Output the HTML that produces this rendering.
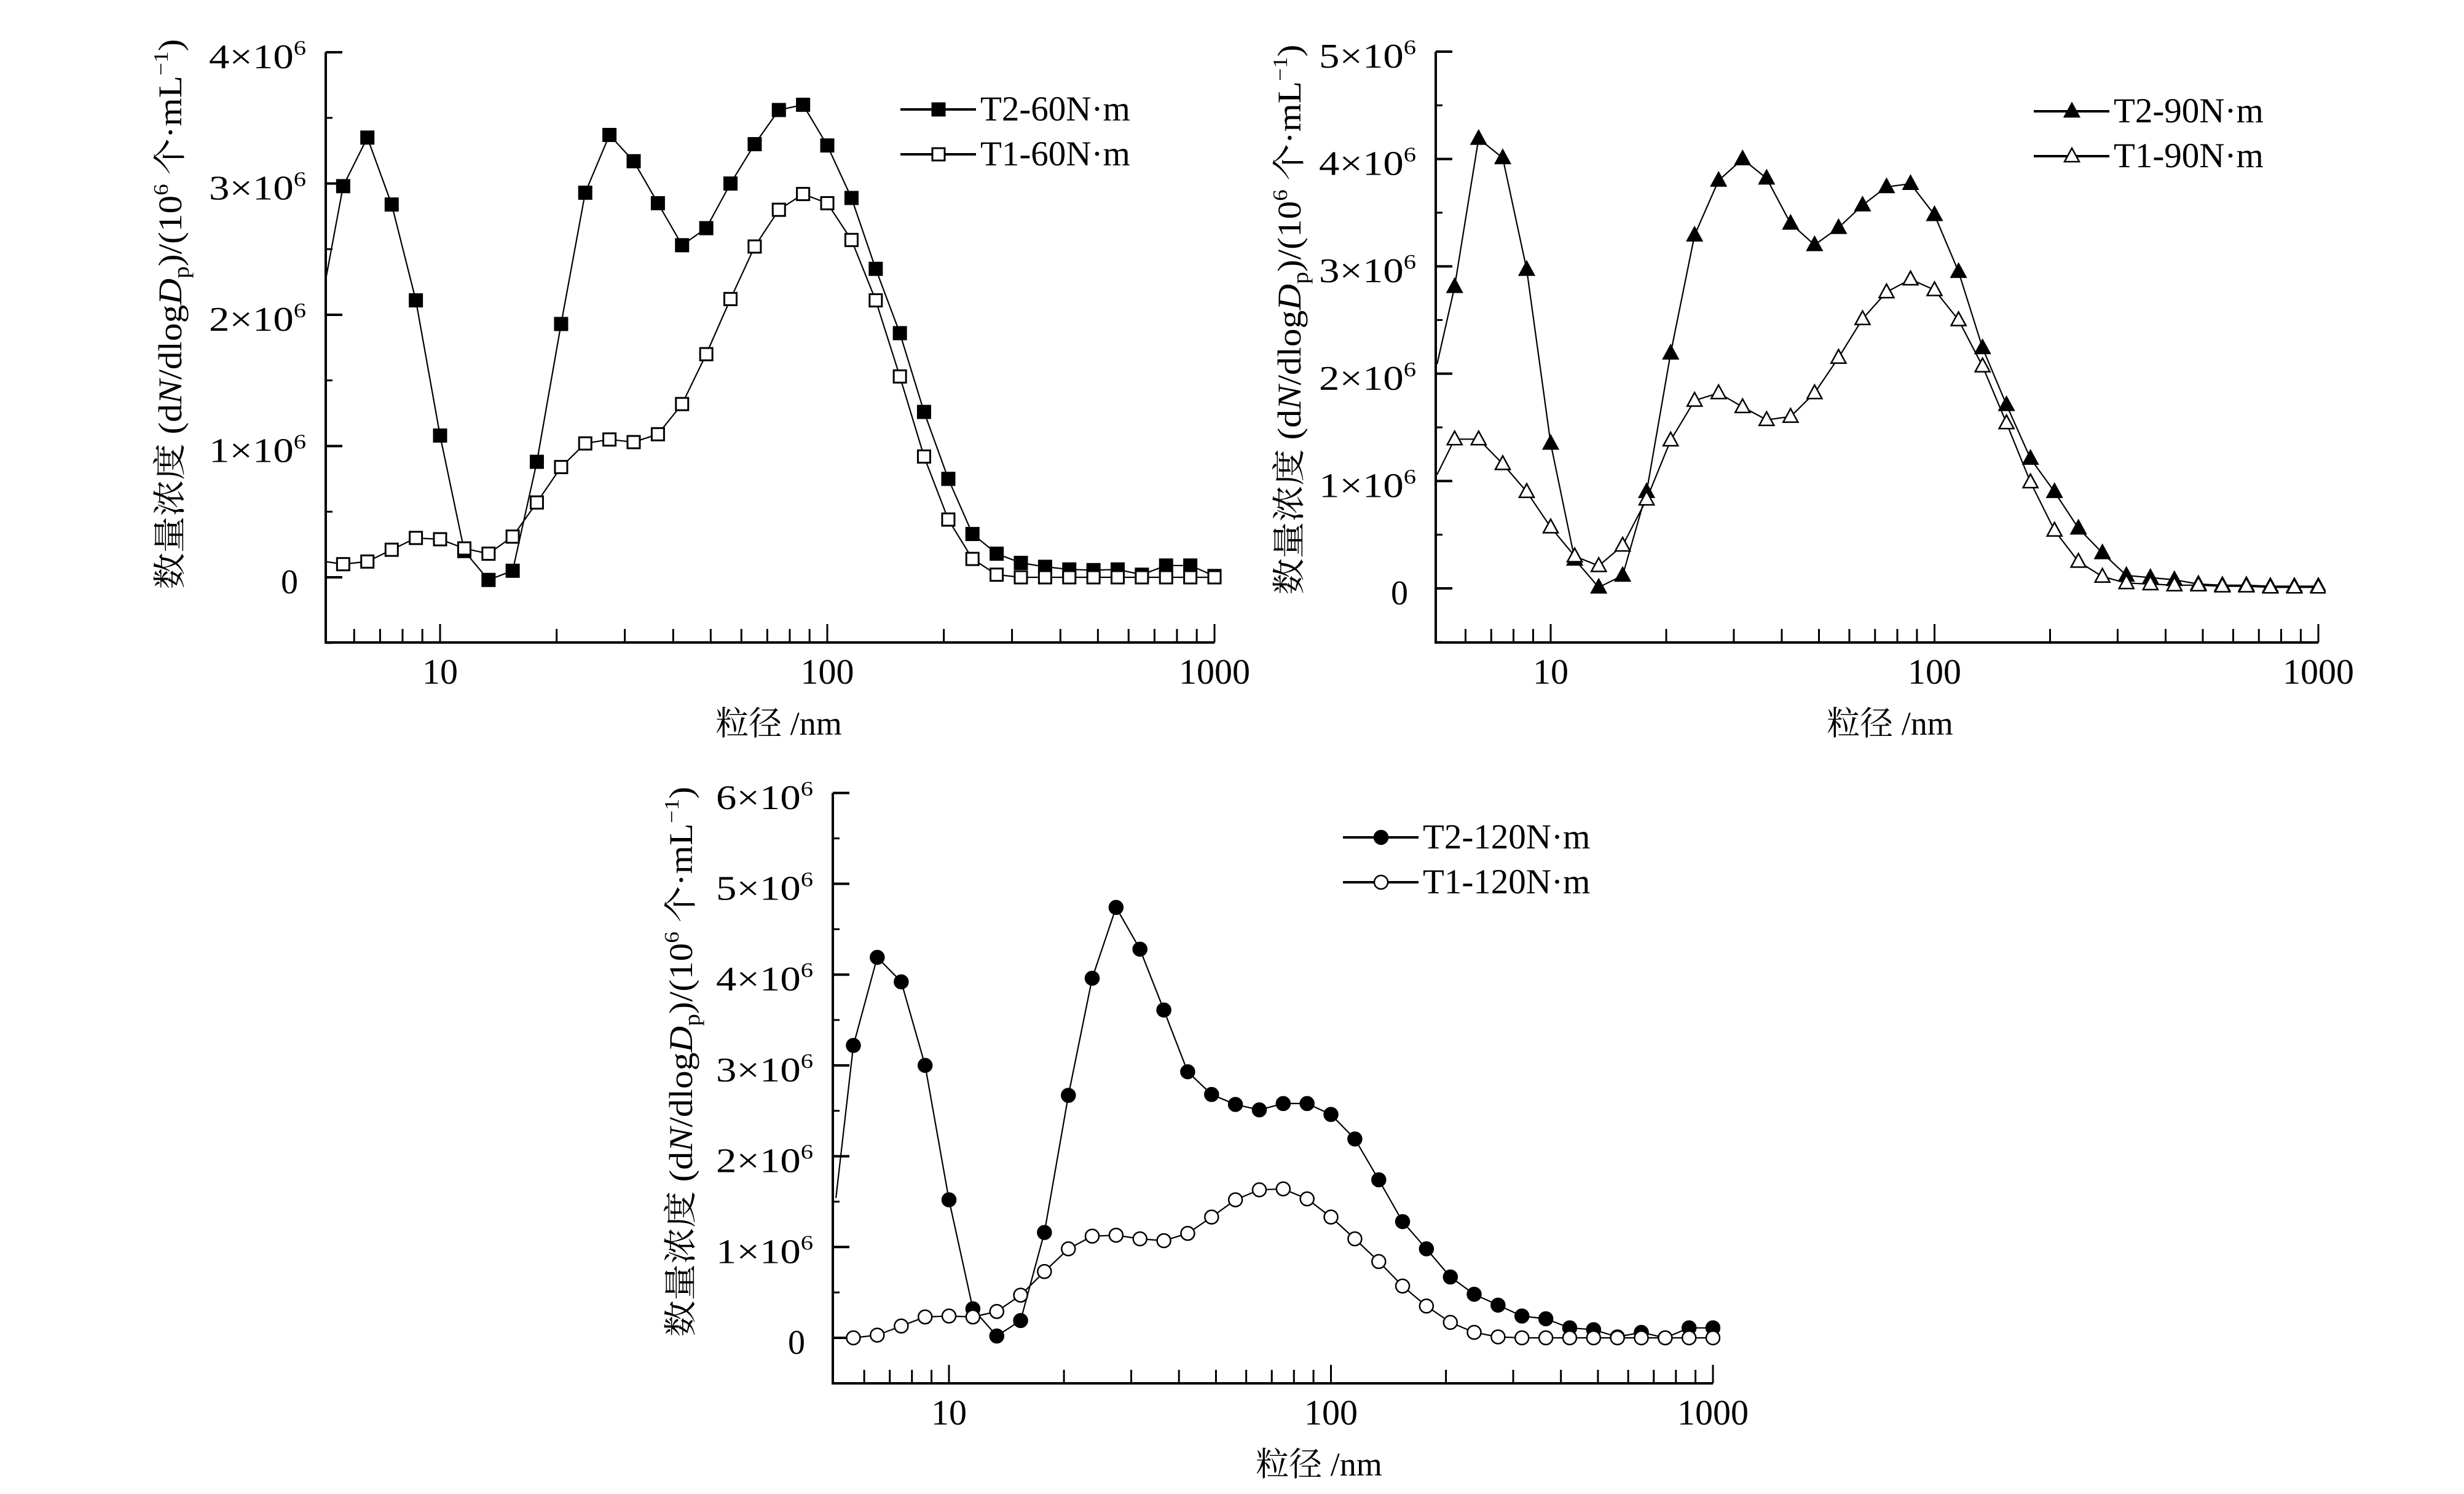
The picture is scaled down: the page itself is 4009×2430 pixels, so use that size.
<!DOCTYPE html>
<html><head><meta charset="utf-8"><style>
html,body{margin:0;padding:0;background:#fff;}
svg{display:block;}
text{font-family:"Liberation Serif","Noto Serif CJK SC",serif;fill:#000;}
</style></head><body>
<svg id="fig" width="4009" height="2430" viewBox="0 0 4009 2430" xmlns="http://www.w3.org/2000/svg"></svg>
<script>
// ---- data ----
const sizesNm = [5.06,5.62,6.49,7.50,8.66,10,11.55,13.34,15.40,17.78,20.54,23.71,27.38,31.62,36.52,42.17,48.70,56.23,64.94,74.99,86.60,100,115.5,133.4,154.0,177.8,205.4,237.1,273.8,316.2,365.2,421.7,487.0,562.3,649.4,749.9,866.0,1000];
const t2_60 = [2.26,2.98,3.35,2.84,2.11,1.08,0.20,-0.02,0.05,0.88,1.93,2.93,3.37,3.17,2.85,2.53,2.66,3.00,3.30,3.56,3.60,3.29,2.89,2.35,1.86,1.26,0.75,0.33,0.18,0.11,0.08,0.06,0.055,0.06,0.02,0.09,0.09,0.01];
const t1_60 = [0.12,0.10,0.12,0.21,0.30,0.29,0.22,0.18,0.31,0.57,0.84,1.02,1.05,1.03,1.09,1.32,1.70,2.12,2.52,2.80,2.92,2.85,2.57,2.11,1.53,0.92,0.44,0.14,0.02,0,0,0,0,0,0,0,0,0];
const t2_90 = [2.09,2.81,4.19,4.01,2.97,1.35,0.27,0.01,0.12,0.90,2.19,3.29,3.80,4.00,3.82,3.40,3.20,3.36,3.57,3.74,3.77,3.48,2.95,2.24,1.71,1.21,0.90,0.56,0.33,0.12,0.10,0.08,0.04,0.03,0.03,0.02,0.02,0.02];
const t1_90 = [1.06,1.39,1.39,1.16,0.90,0.57,0.30,0.21,0.40,0.83,1.38,1.75,1.82,1.69,1.57,1.60,1.82,2.15,2.51,2.76,2.88,2.78,2.50,2.07,1.54,0.99,0.54,0.25,0.11,0.05,0.04,0.03,0.03,0.02,0.02,0.01,0.01,0.01];
const t2_120 = [1.54,3.22,4.19,3.92,3.00,1.52,0.32,0.02,0.19,1.16,2.67,3.96,4.74,4.28,3.61,2.93,2.68,2.57,2.51,2.58,2.58,2.46,2.19,1.74,1.28,0.98,0.67,0.48,0.36,0.24,0.21,0.11,0.09,0.01,0.06,0.00,0.11,0.11];
const t1_120 = [0.0,0.00,0.03,0.13,0.23,0.24,0.23,0.29,0.47,0.73,0.98,1.12,1.13,1.09,1.07,1.15,1.33,1.52,1.63,1.64,1.53,1.33,1.09,0.84,0.57,0.35,0.17,0.06,0.01,0,0,0,0,0,0,0,0,0];
const xTickLabels = ["10","100","1000"];
const xTickValues = [10,100,1000];
const legend60 = ["T2-60N·m","T1-60N·m"];
const legend90 = ["T2-90N·m","T1-90N·m"];
const legend120 = ["T2-120N·m","T1-120N·m"];

const NS = "http://www.w3.org/2000/svg";
const svg = document.getElementById('fig');
function mk(tag, attrs, parent){
  const e = document.createElementNS(NS, tag);
  for (const k in attrs) e.setAttribute(k, attrs[k]);
  (parent||svg).appendChild(e);
  return e;
}

function marker(g, type, filled, x, y){
  let m;
  const fill = filled ? '#000' : '#fff';
  if (type==='square') m = mk('rect',{x:x-10,y:y-10,width:20,height:20,fill:fill,stroke:'#000','stroke-width':3},g);
  else if (type==='circle') m = mk('circle',{cx:x,cy:y,r:11,fill:fill,stroke:'#000','stroke-width':2.5},g);
  else m = mk('polygon',{points:`${x},${y-13} ${x+12},${y+9} ${x-12},${y+9}`,fill:fill,stroke:'#000','stroke-width':2.5},g);
  return m;
}

function chart(cfg){
  const g = mk('g',{});
  
  
  const xAt = v => cfg.x10 + (Math.log10(v)-1)*cfg.dec;
  const yAt = v => cfg.y0 - v*cfg.k;
  const L = cfg.L, R = cfg.R, B = cfg.bottom, T = yAt(cfg.ymax);
  const cid = 'clip-'+cfg.name;
  const cp = mk('clipPath',{id:cid},g);
  mk('rect',{x:L,y:T-40,width:R-L+12,height:B-T+40},cp);
  const ax = mk('path',{d:`M${L},${T} L${L},${B} L${R},${B}`,fill:'none',stroke:'#000','stroke-width':4},g);
  
  
  for (let v=0; v<=cfg.ymax; v++){
    const y = yAt(v);
    mk('line',{x1:L,y1:y,x2:L+27,y2:y,stroke:'#000','stroke-width':4},g);
    if (v < cfg.ymax){ const y2 = yAt(v+0.5); mk('line',{x1:L,y1:y2,x2:L+11,y2:y2,stroke:'#000','stroke-width':3},g); }
    const t = mk('text',{x:L-32,y:y+26,'text-anchor':'end','font-size':56},g);
    
    
    if (v===0) { t.textContent='0'; t.setAttribute('x', L-45); }
    else { t.setAttribute('textLength','158'); t.setAttribute('lengthAdjust','spacingAndGlyphs'); t.innerHTML = `${v}×10<tspan dy="-22" font-size="34">6</tspan>`; }
  }
  mk('line',{x1:L,y1:yAt(-0.5),x2:L+11,y2:yAt(-0.5),stroke:'#000','stroke-width':3},g);
  for (let d=1; d<=1000; d*=10){
    for (let m=1; m<10; m++){
      const v = d*m; const x = xAt(v);
      if (x < L+3 || x > R+2) continue;
      const major = (m===1);
      mk('line',{x1:x,y1:B,x2:x,y2:B-(major?30:22),stroke:'#000','stroke-width':3},g);
    }
  }
  xTickValues.forEach((v,i)=>{
    const t = mk('text',{x:xAt(v),y:B+67,'text-anchor':'middle','font-size':58},g);
    
    
    t.textContent = xTickLabels[i];
  });
  const xt = mk('text',{x:cfg.xtx,y:B+150,'text-anchor':'middle','font-size':54},g);
  
  
  xt.textContent = '粒径 /nm';
  const yt = mk('text',{x:0,y:0,'text-anchor':'middle','font-size':54,textLength:895,lengthAdjust:'spacingAndGlyphs',transform:`translate(${cfg.ytx},${cfg.yty}) rotate(-90)`},g);
  
  
  yt.innerHTML = '数量浓度 (d<tspan font-style="italic">N</tspan>/dlog<tspan font-style="italic">D</tspan><tspan dy="12" font-size="36">p</tspan><tspan dy="-12">)/(10</tspan><tspan dy="-22" font-size="34">6</tspan><tspan dy="22"> 个·mL</tspan><tspan dy="-22" font-size="34">−1</tspan><tspan dy="22">)</tspan>';
  const pg = mk('g',{'clip-path':`url(#${cid})`},g);
  cfg.series.forEach((s,si)=>{
    const sg = mk('g',{},pg);
    
    
    const pts = s.values.map((v,i)=>`${xAt(sizesNm[i]).toFixed(1)},${yAt(v).toFixed(1)}`);
    mk('polyline',{points:pts.join(' '),fill:'none',stroke:'#000','stroke-width':2.2},sg);
    s.values.forEach((v,i)=>{
      if (i===0) return;
      const m = marker(sg, cfg.marker, s.filled, xAt(sizesNm[i]), yAt(v));
      
      
    });
    const ly = cfg.legY + si*73;
    const lg = mk('g',{},g);
    
    
    mk('line',{x1:cfg.legX,y1:ly,x2:cfg.legX+123,y2:ly,stroke:'#000','stroke-width':4},lg);
    marker(lg, cfg.marker, s.filled, cfg.legX+62, ly);
    const lt = mk('text',{x:cfg.legX+130,y:ly+18,'font-size':57},lg);
    lt.textContent = s.label;
  });
}

chart({name:'chart-60nm', L:530, R:1976, x10:716, dec:630, y0:939, k:213.5, ymax:4, bottom:1045,
  xtx:1267, ytx:295, yty:511, legX:1465, legY:178, marker:'square',
  series:[{label:legend60[0],values:t2_60,filled:true},{label:legend60[1],values:t1_60,filled:false}]});
chart({name:'chart-90nm', L:2336, R:3772, x10:2523, dec:624.5, y0:957, k:174.6, ymax:5, bottom:1045,
  xtx:3075, ytx:2116, yty:520, legX:3309, legY:181, marker:'triangle',
  series:[{label:legend90[0],values:t2_90,filled:true},{label:legend90[1],values:t1_90,filled:false}]});
chart({name:'chart-120nm', L:1355, R:2787, x10:1544, dec:621.5, y0:2176, k:147.7, ymax:6, bottom:2250,
  xtx:2146, ytx:1126, yty:1727, legX:2185, legY:1362, marker:'circle',
  series:[{label:legend120[0],values:t2_120,filled:true},{label:legend120[1],values:t1_120,filled:false}]});
</script>
</body></html>
